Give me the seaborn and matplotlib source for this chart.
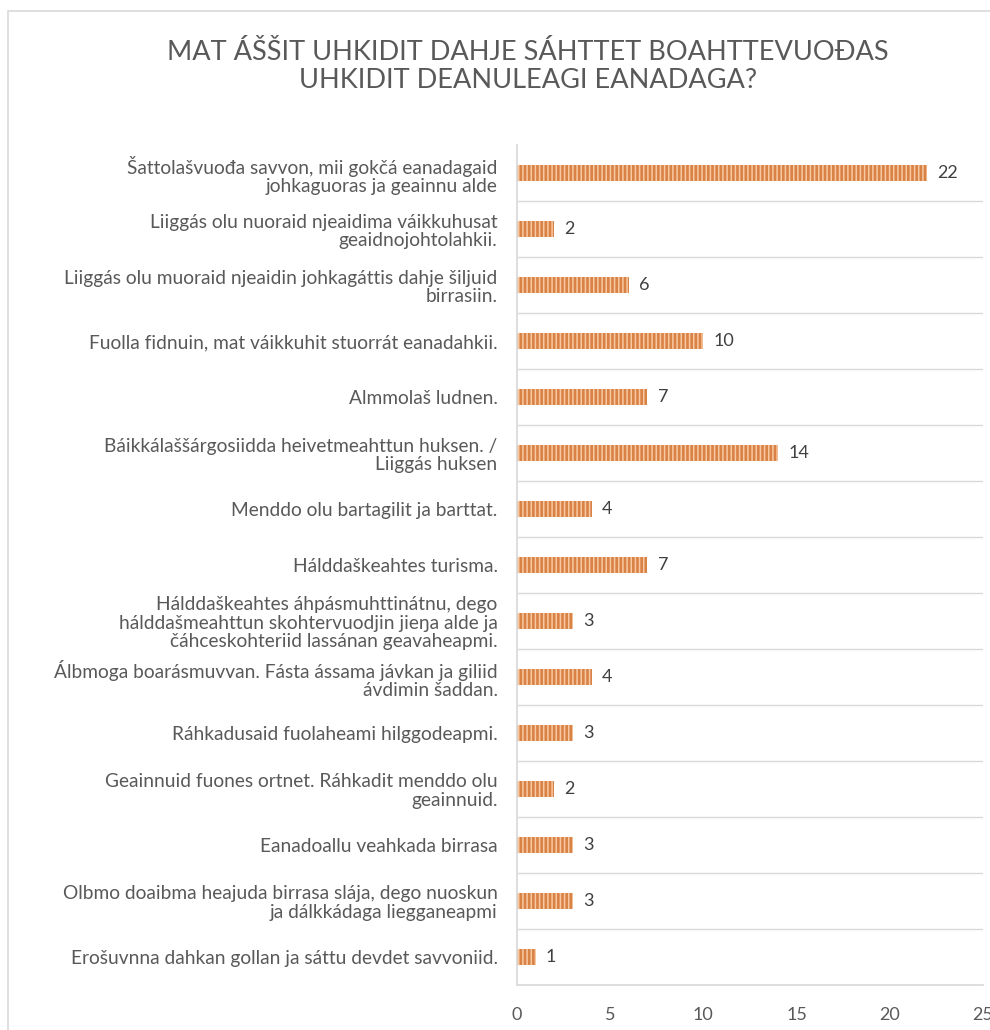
import matplotlib
matplotlib.use("Agg")
import matplotlib.pyplot as plt
import seaborn as sns
import pandas as pd
from matplotlib.patches import Rectangle

# Chart data
labels = [
    "Šattolašvuođa savvon, mii gokčá eanadagaid\njohkaguoras ja geainnu alde",
    "Liiggás olu nuoraid njeaidima váikkuhusat\ngeaidnojohtolahkii.",
    "Liiggás olu muoraid njeaidin johkagáttis dahje šiljuid\nbirrasiin.",
    "Fuolla fidnuin, mat váikkuhit stuorrát eanadahkii.",
    "Almmolaš ludnen.",
    "Báikkálaššárgosiidda heivetmeahttun huksen. /\nLiiggás huksen",
    "Menddo olu bartagilit ja barttat.",
    "Hálddaškeahtes turisma.",
    "Hálddaškeahtes áhpásmuhttinátnu, dego\nhálddašmeahttun skohtervuodjin jieŋa alde ja\nčáhceskohteriid lassánan geavaheapmi.",
    "Álbmoga boarásmuvvan. Fásta ássama jávkan ja giliid\návdimin šaddan.",
    "Ráhkadusaid fuolaheami hilggodeapmi.",
    "Geainnuid fuones ortnet. Ráhkadit menddo olu\ngeainnuid.",
    "Eanadoallu veahkada birrasa",
    "Olbmo doaibma heajuda birrasa slája, dego nuoskun\nja dálkkádaga liegganeapmi",
    "Erošuvnna dahkan gollan ja sáttu devdet savvoniid.",
]
values = [22, 2, 6, 10, 7, 14, 4, 7, 3, 4, 3, 2, 3, 3, 1]
xticks = [0, 5, 10, 15, 20, 25]
title = "MAT ÁŠŠIT UHKIDIT DAHJE SÁHTTET BOAHTTEVUOĐAS\nUHKIDIT DEANULEAGI EANADAGA?"

df = pd.DataFrame({"label": labels, "value": values})

sns.set_theme(style="white")
plt.rcParams["font.family"] = ["Lato", "DejaVu Sans"]
plt.rcParams["hatch.linewidth"] = 1.1

fig = plt.figure(figsize=(9.9, 10.3), dpi=100)
ax = fig.add_axes([0.5222, 0.0437, 0.4707, 0.8155])

sns.barplot(data=df, x="value", y="label", orient="h", color="#F07E2E",
            width=0.3, ax=ax)

for bar in ax.patches:
    bar.set_hatch("||||")
    bar.set_edgecolor("#FAC9A2")
    bar.set_linewidth(0)

for bar, v in zip(ax.patches, values):
    ax.text(bar.get_width() + 0.55, bar.get_y() + bar.get_height() / 2, str(v),
            va="center", ha="left", fontsize=13, color="#404040")

ax.set_xlim(0, 25)
ax.set_ylim(len(labels) - 0.5, -0.5)
ax.set_xticks(xticks)
ax.set_xticklabels([str(t) for t in xticks], fontsize=13, color="#595959")
ax.tick_params(axis="x", length=0, pad=16)
ax.tick_params(axis="y", length=0, pad=14)
for t in ax.get_yticklabels():
    t.set_fontsize(13.8)
    t.set_color("#595959")
    t.set_linespacing(1.1)
ax.set_xlabel("")
ax.set_ylabel("")

# separators between categories
for b in range(len(labels) - 1):
    ax.axhline(b + 0.5, color="#D9D9D9", linewidth=1.0, zorder=0)

for side in ["top", "right"]:
    ax.spines[side].set_visible(False)
ax.spines["left"].set_color("#D9D9D9")
ax.spines["bottom"].set_color("#D9D9D9")

fig.text(0.533, 0.935, title, ha="center", va="center", fontsize=19.5,
         color="#595959", linespacing=1.15)

# outer chart frame
fig.patches.append(Rectangle((0.008, -0.01), 1.0, 0.999, transform=fig.transFigure,
                             fill=False, edgecolor="#D9D9D9", linewidth=1.2))

fig.savefig("out.png", dpi=100, facecolor="white")
